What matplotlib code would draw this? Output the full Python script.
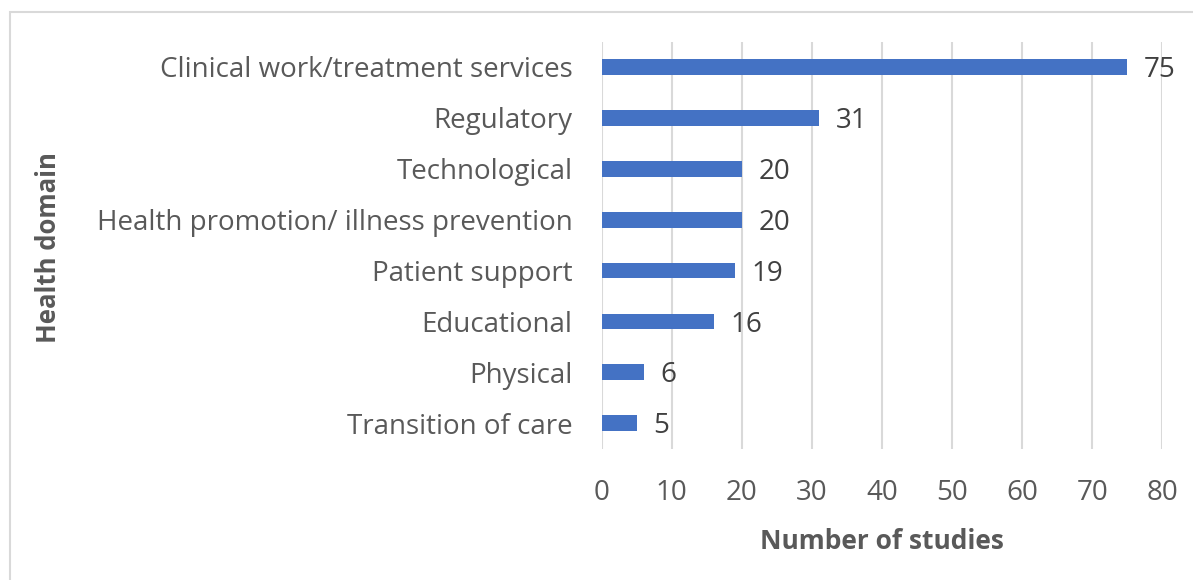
import matplotlib
matplotlib.use("Agg")
import matplotlib.pyplot as plt
from matplotlib.patches import Rectangle

domains = ["Clinical work/treatment services", "Regulatory", "Technological",
           "Health promotion/ illness prevention", "Patient support",
           "Educational", "Physical", "Transition of care"]
studies = [75, 31, 20, 20, 19, 16, 6, 5]
xticks = [0, 10, 20, 30, 40, 50, 60, 70, 80]

BAR = "#4472c4"
TXT = "#595959"
GRID = "#d9d9d9"

plt.rcParams.update({"font.family": ["Open Sans", "DejaVu Sans"]})

W, H = 1193, 580
fig = plt.figure(figsize=(W / 100, H / 100), dpi=100)
ax = fig.add_axes([601.7 / W, 1 - 448.7 / H, (1162.3 - 601.7) / W, (448.7 - 41.5) / H])

ypos = list(range(len(domains)))
ax.barh(ypos, studies, height=0.31, color=BAR, zorder=3)
for y, v in zip(ypos, studies):
    ax.text(v + 2.4, y + 0.06, str(v), ha="left", va="center",
            fontsize=20, color="#404040", zorder=4)

ax.set_xlim(0, 80)
ax.set_ylim(len(domains) - 0.5, -0.5)
ax.set_xticks(xticks)
ax.set_yticks(ypos)
ax.set_yticklabels(domains)
ax.tick_params(axis="both", length=0, labelsize=20, colors=TXT)
ax.tick_params(axis="y", pad=21)
ax.tick_params(axis="x", pad=22)
ax.grid(axis="x", color=GRID, linewidth=1.5, zorder=0)
for sp in ax.spines.values():
    sp.set_visible(False)

ax.set_xlabel("Number of studies", fontsize=19, fontweight="bold", color=TXT, labelpad=15)
fig.text(49 / W, 1 - 248 / H, "Health domain", rotation=90, ha="center", va="center",
         fontsize=18.5, fontweight="bold", color=TXT)

# light chart-area frame
fig.patches.append(Rectangle((10 / W, -0.1), 1.2, 1 - 12 / H + 0.1, transform=fig.transFigure,
                             fill=False, edgecolor="#d9d9d9", linewidth=1.5))

fig.savefig("out.png", dpi=100, facecolor="white")
